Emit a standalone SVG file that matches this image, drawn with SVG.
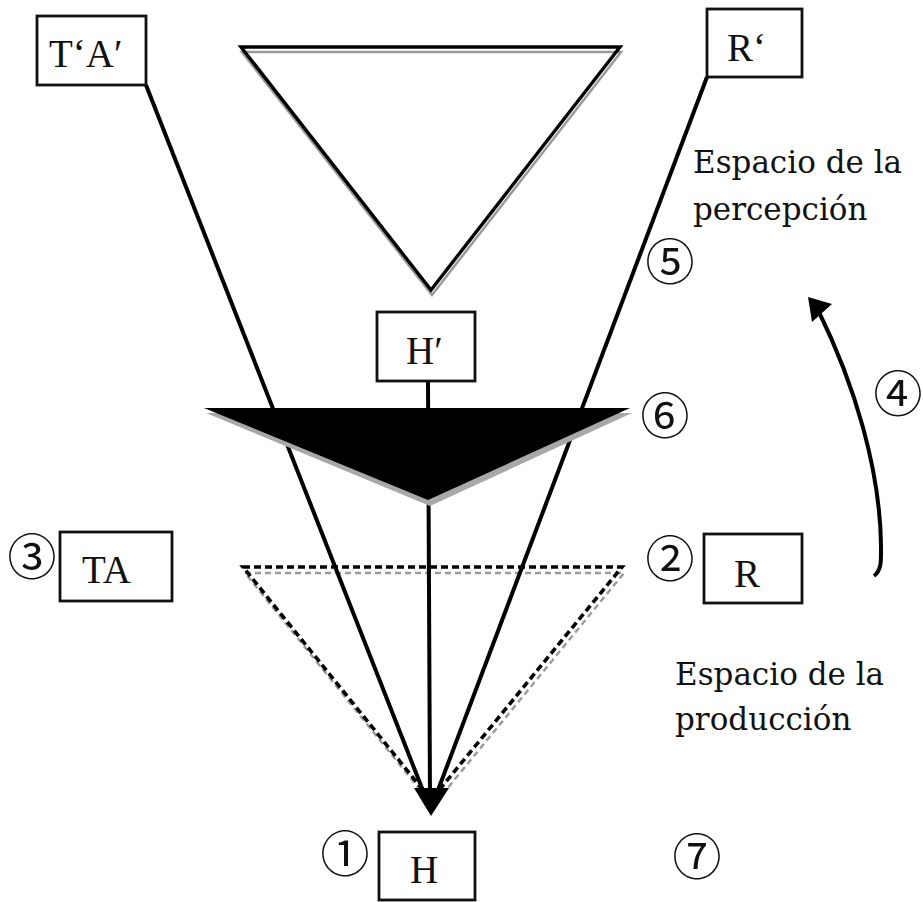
<svg xmlns="http://www.w3.org/2000/svg" width="923" height="902" viewBox="0 0 923 902">
<style>
.box{fill:#fff;stroke:#111;stroke-width:2.8}
.lbl{font-family:"Liberation Serif",serif;font-size:39px;fill:#111}
.esp{font-family:"DejaVu Serif","Liberation Serif",serif;font-size:31px;fill:#111}
.num{font-family:"Noto Sans CJK JP",sans-serif;font-size:49px;fill:#111;text-anchor:middle;dominant-baseline:central}
.ln{stroke:#000;stroke-width:4;fill:none}
.shadow{stroke:#9a9a9a;stroke-width:2.5;fill:none}
</style>
<rect width="923" height="902" fill="#fff"/>

<g id="top-triangle">
  <polygon class="shadow" points="242,52 621,52 432,295"/>
  <polygon points="241,47 620,47 431,290" fill="none" stroke="#000" stroke-width="3.4" stroke-linejoin="miter"/>
</g>

<g id="dashed-triangle">
  <polygon points="245,573 624,573 433,806" fill="none" stroke="#9a9a9a" stroke-width="2.4" stroke-dasharray="6 4"/>
  <polygon points="243,567 622,567 431,800" fill="none" stroke="#000" stroke-width="3.6" stroke-dasharray="7 4"/>
</g>

<g id="connectors">
  <line class="ln" x1="146" y1="85" x2="429" y2="806"/>
  <line class="ln" x1="707" y1="77" x2="432" y2="806"/>
  <line class="ln" x1="428" y1="381" x2="430" y2="800" stroke-width="3.5"/>
  <polygon points="414,788 449,788 431,816" fill="#000"/>
  <path class="ln" d="M 874 576 C 882 570 881 560 881 545 C 880 470 855 385 818 310" stroke-width="3.2"/>
  <polygon points="808,297 812,322 832,304" fill="#000"/>
</g>

<g id="black-triangle">
  <polygon points="206,413 632,413 430,506" fill="#a8a8a8"/>
  <polygon points="204,408 630,408 428,500" fill="#000"/>
</g>

<g id="node-TA-prime">
  <rect class="box" x="37" y="16" width="109" height="69"/>
  <text class="lbl" x="49" y="67">T‘A′</text>
</g>
<g id="node-R-prime">
  <rect class="box" x="707" y="9" width="95" height="68"/>
  <text class="lbl" x="727" y="61">R‘</text>
</g>
<g id="node-H-prime">
  <rect class="box" x="377" y="312" width="98" height="69"/>
  <text class="lbl" x="406" y="364">H′</text>
</g>
<g id="node-TA">
  <rect class="box" x="60" y="532" width="112" height="69"/>
  <text class="lbl" x="82" y="583">TA</text>
</g>
<g id="node-R">
  <rect class="box" x="704" y="534" width="98" height="69"/>
  <text class="lbl" x="734" y="587">R</text>
</g>
<g id="node-H">
  <rect class="box" x="379" y="832" width="96" height="68"/>
  <text class="lbl" x="410" y="883">H</text>
</g>

<g id="labels">
  <text class="esp" x="693" y="173">Espacio de la</text>
  <text class="esp" x="693" y="220">percepción</text>
  <text class="esp" x="675" y="685">Espacio de la</text>
  <text class="esp" x="675" y="730">producción</text>
</g>

<g id="numbers">
  <text class="num" x="345" y="850">①</text>
  <text class="num" x="670" y="555">②</text>
  <text class="num" x="32" y="553">③</text>
  <text class="num" x="898" y="390">④</text>
  <text class="num" x="670" y="258">⑤</text>
  <text class="num" x="665" y="412">⑥</text>
  <text class="num" x="697" y="853">⑦</text>
</g>
</svg>
